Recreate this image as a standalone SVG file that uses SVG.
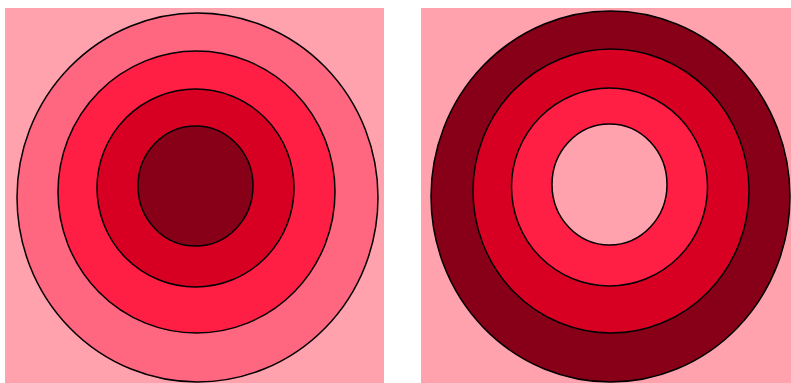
<svg xmlns="http://www.w3.org/2000/svg" width="791" height="383" viewBox="0 0 791 383">
<style>
.ring{stroke:#000;stroke-width:1.5}
.c0{fill:#ffa2ad}.c1{fill:#ff6680}.c2{fill:#ff1f44}.c3{fill:#d70022}.c4{fill:#870017}
</style>
<rect width="791" height="383" fill="#fff"/>
<g id="left">
<rect x="5" y="8" width="379" height="375" class="c0"/>
<ellipse cx="197.5" cy="197.5" rx="180.5" ry="184.5" class="ring c1"/>
<ellipse cx="196.5" cy="192" rx="138.5" ry="141" class="ring c2"/>
<ellipse cx="195.5" cy="188" rx="98.5" ry="99" class="ring c3"/>
<ellipse cx="195.5" cy="186" rx="57.5" ry="60" class="ring c4"/>
</g>
<g id="right">
<rect x="421" y="8" width="370" height="375" class="c0"/>
<ellipse cx="610.5" cy="196.5" rx="179.5" ry="185.5" class="ring c4"/>
<ellipse cx="611" cy="191" rx="138" ry="142" class="ring c3"/>
<ellipse cx="609.5" cy="187" rx="98" ry="99" class="ring c2"/>
<ellipse cx="609.5" cy="184.5" rx="57.5" ry="60.5" class="ring c0"/>
</g>
</svg>
